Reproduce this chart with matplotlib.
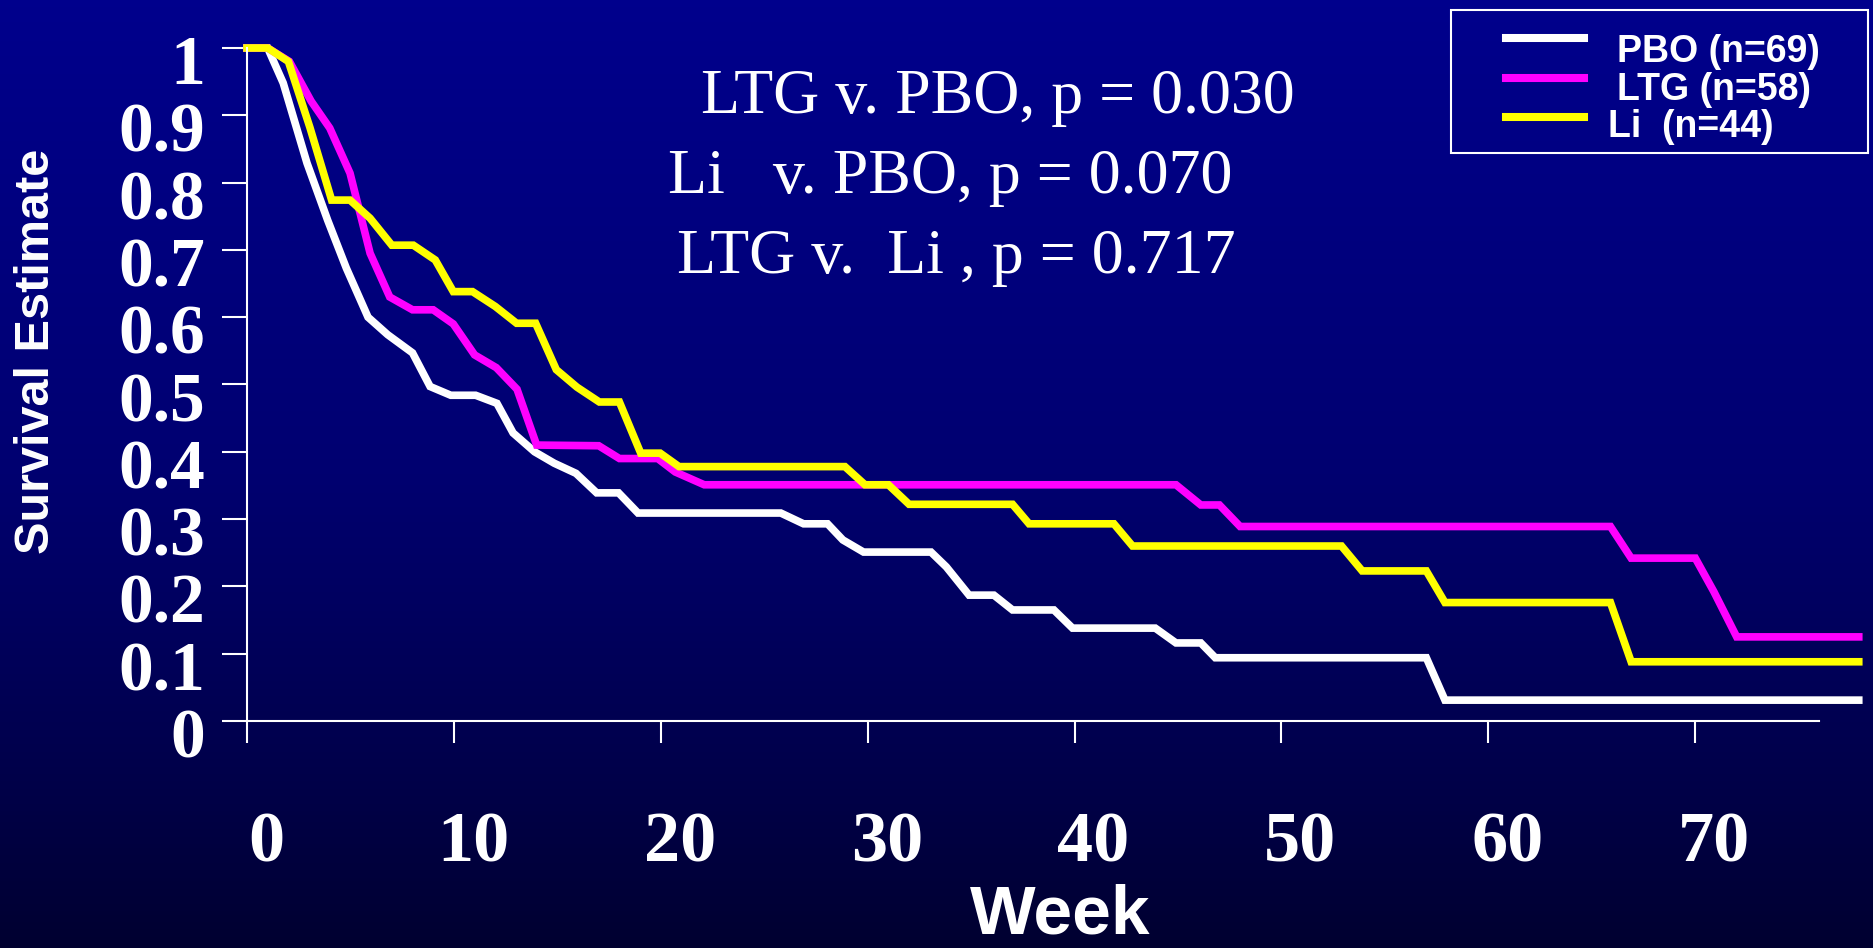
import numpy as np
import matplotlib
matplotlib.use("Agg")
import matplotlib.pyplot as plt
from matplotlib.lines import Line2D
from matplotlib.patches import Rectangle
from matplotlib.transforms import ScaledTranslation

# Kaplan-Meier curves (week, survival estimate)
weeks_pbo = [0, 1.0, 1.75, 2.9, 3.9, 4.8, 5.85, 6.8, 8.0, 8.85,
             9.85, 11.05, 12.08, 12.86, 13.9, 14.85, 15.9, 16.9, 17.96, 18.9,
             25.8, 26.9, 28.06, 28.8, 29.8, 33.06, 33.8, 34.9, 36.1, 37.0,
             39.0, 39.9, 43.9, 44.9, 46.1, 46.8, 57.0, 57.9, 77.9]
surv_pbo = [1, 1, .948, .829, .744, .673, .600, .574, .547, .497,
            .484, .484, .472, .428, .400, .383, .368, .339, .339, .309,
            .309, .293, .293, .269, .251, .251, .229, .187, .187, .165,
            .165, .138, .138, .116, .116, .094, .094, .031, .031]

weeks_ltg = [0, 1.0, 2.05, 3.1, 4.0, 4.98, 5.95, 6.9, 8.0, 9.0,
             9.97, 11.0, 12.05, 13.05, 14.0, 17.0, 18.0, 19.85, 20.7, 22.1,
             44.9, 46.1, 47.0, 48.0, 65.9, 66.9, 70.0, 70.9, 72.0, 77.9]
surv_ltg = [1, 1, .98, .921, .881, .814, .695, .630, .611, .611,
            .590, .544, .525, .493, .410, .409, .390, .390, .370, .351,
            .351, .321, .321, .289, .289, .242, .242, .192, .125, .125]

weeks_li = [0, 1.0, 2.0, 3.04, 4.09, 4.98, 5.95, 7.0, 8.04, 9.1,
            9.97, 10.9, 12.0, 13.03, 13.95, 14.95, 15.95, 17.03, 18.0, 19.03,
            19.97, 20.88, 28.9, 29.87, 31.0, 32.0, 37.0, 37.8, 41.9, 42.8,
            52.9, 53.9, 57.0, 57.9, 65.9, 66.9, 77.9]
surv_li = [1, 1, .98, .882, .774, .774, .747, .707, .707, .685,
           .638, .638, .616, .591, .591, .522, .496, .474, .474, .398,
           .398, .378, .378, .351, .351, .322, .322, .293, .293, .260,
           .260, .223, .223, .176, .176, .088, .088]

series_labels = ["PBO (n=69)", "LTG (n=58)", "Li  (n=44)"]
series_colors = ["#ffffff", "#ff00ff", "#ffff00"]

y_ticks = [0, 0.1, 0.2, 0.3, 0.4, 0.5, 0.6, 0.7, 0.8, 0.9, 1]
y_ticklabels = ["0", "0.1", "0.2", "0.3", "0.4", "0.5", "0.6", "0.7", "0.8", "0.9", "1"]
x_ticks = [0, 10, 20, 30, 40, 50, 60, 70]

pvalue_lines = ["LTG v. PBO, p = 0.030",
                "Li   v. PBO, p = 0.070",
                "LTG v.  Li , p = 0.717"]

W, H = 1874, 948


def fx(x):
    return x / W


def fy(y):
    return 1 - y / H


fig = plt.figure(figsize=(W / 100, H / 100), dpi=100)

# background gradient, bright navy at the top fading to almost black
bg = fig.add_axes([0, 0, 1, 1], zorder=-10)
rows = np.linspace(0, 1, 256)
blue = np.interp(rows, [0, 0.5, 0.82, 1.0], [0.55, 0.44, 0.29, 0.19])
grad = np.zeros((256, 1, 3))
grad[:, 0, 2] = blue
bg.imshow(grad, aspect="auto", extent=[0, 1, 0, 1])
bg.axis("off")

ax = fig.add_axes([fx(247), 227 / H, 78 * 20.69 / W, 673 / H])
ax.patch.set_alpha(0)

data = [(weeks_pbo, surv_pbo), (weeks_ltg, surv_ltg), (weeks_li, surv_li)]
for (wk, sv), col in zip(data, series_colors):
    ax.plot(wk, sv, color=col, lw=5.5, clip_on=False,
            solid_joinstyle="miter", solid_capstyle="projecting")

ax.set_xlim(0, 78)
ax.set_ylim(0, 1)
for side in ["top", "right"]:
    ax.spines[side].set_visible(False)
for side in ["left", "bottom"]:
    ax.spines[side].set_color("white")
    ax.spines[side].set_linewidth(1.5)
ax.spines["bottom"].set_bounds(0, 76)
ax.spines["left"].set_bounds(0, 1)

ax.set_yticks(y_ticks)
ax.set_yticklabels(y_ticklabels)
ax.set_xticks(x_ticks)
ax.tick_params(axis="y", direction="out", length=18, width=1.5, color="white",
               pad=12, labelcolor="white", labelsize=50)
ax.tick_params(axis="x", direction="out", length=16, width=1.5, color="white",
               pad=49, labelcolor="white", labelsize=52)
for lab in ax.get_yticklabels():
    lab.set_fontfamily("Liberation Serif")
    lab.set_fontweight("bold")
    lab.set_transform(lab.get_transform() + ScaledTranslation(0, -0.12, fig.dpi_scale_trans))
for lab in ax.get_xticklabels():
    lab.set_fontfamily("Liberation Serif")
    lab.set_fontweight("bold")
    lab.set_transform(lab.get_transform() + ScaledTranslation(0.19, 0, fig.dpi_scale_trans))

fig.text(fx(37), fy(351), "Survival Estimate", rotation=90, ha="center", va="center",
         color="white", fontsize=35, fontweight="bold", family="Liberation Sans")
fig.text(fx(1060), fy(934), "Week", ha="center", va="baseline",
         color="white", fontsize=50, fontweight="bold", family="Liberation Sans")

# p-value annotations
for txt, x0, base in zip(pvalue_lines, [701, 668, 677], [113, 193, 273]):
    fig.text(fx(x0), fy(base), txt, ha="left", va="baseline", color="white",
             fontsize=46, family="Liberation Serif")

# legend box drawn by hand to match the slide layout
fig.add_artist(Rectangle((fx(1451), fy(153)), fx(1868 - 1451), (153 - 10) / H,
                         transform=fig.transFigure, fill=False,
                         edgecolor="white", lw=1.5))
for lab, col, ly, tx, base in zip(series_labels, series_colors, [38, 78, 117],
                                  [1617, 1617, 1608], [62, 100, 137]):
    fig.add_artist(Line2D([fx(1506), fx(1584)], [fy(ly), fy(ly)],
                          transform=fig.transFigure, color=col, lw=5.8))
    fig.text(fx(tx), fy(base), lab, ha="left", va="baseline", color="white",
             fontsize=27, fontweight="bold", family="Liberation Sans")

fig.savefig("out.png", dpi=100)
